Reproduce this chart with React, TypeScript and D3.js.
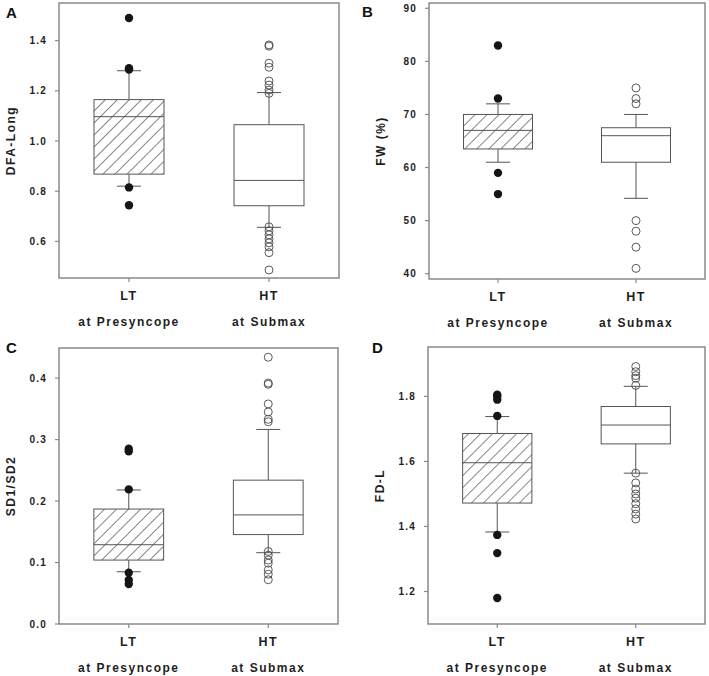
/**
 * Four box plots (LT at Presyncope vs HT at Submax) — SigmaPlot style
 */
import { useEffect, useRef } from 'react';
import * as d3 from 'd3';

// groups
const groups = ['LT', 'HT'];
const groupSub = ['at Presyncope', 'at Submax'];

// box stats per group: [whiskerLow, q1, median, q3, whiskerHigh]
const dfaStats = [
  [0.82, 0.868, 1.097, 1.165, 1.28],
  [0.656, 0.742, 0.843, 1.065, 1.193],
];
const dfaOutliers = [
  [1.49, 1.29, 1.285, 0.815, 0.744],
  [1.383, 1.378, 1.31, 1.294, 1.239, 1.223, 1.203, 1.19,
    0.658, 0.642, 0.626, 0.61, 0.594, 0.578, 0.555, 0.486],
];

const fwStats = [
  [61, 63.5, 67, 70, 72],
  [54.2, 61, 66, 67.5, 70],
];
const fwOutliers = [
  [83, 73, 59, 55],
  [75, 73, 72, 50, 48, 45, 41],
];

const sdStats = [
  [0.085, 0.104, 0.129, 0.187, 0.218],
  [0.116, 0.1455, 0.1775, 0.234, 0.3165],
];
const sdOutliers = [
  [0.285, 0.281, 0.219, 0.0835, 0.0717, 0.065],
  [0.434, 0.392, 0.39, 0.358, 0.345, 0.333, 0.329,
    0.118, 0.112, 0.104, 0.099, 0.088, 0.081, 0.072],
];

const fdStats = [
  [1.383, 1.472, 1.596, 1.686, 1.738],
  [1.564, 1.654, 1.712, 1.769, 1.831],
];
const fdOutliers = [
  [1.805, 1.8, 1.79, 1.74, 1.374, 1.318, 1.18],
  [1.892, 1.876, 1.864, 1.856, 1.834,
    1.564, 1.534, 1.515, 1.5, 1.487, 1.47, 1.454, 1.438, 1.423],
];

const dfaTicks = [0.6, 0.8, 1.0, 1.2, 1.4];
const fwTicks = [40, 50, 60, 70, 80, 90];
const sdTicks = [0.0, 0.1, 0.2, 0.3, 0.4];
const fdTicks = [1.2, 1.4, 1.6, 1.8];

interface Panel {
  letter: string;
  label: string;
  stats: number[][];
  outliers: number[][];
  ticks: number[];
  fmt: string;
  domain: [number, number];
  x0: number; x1: number; y0: number; y1: number;
  lx: number; ly: number;
}

const panels: Panel[] = [
  { letter: 'A', label: 'DFA-Long', stats: dfaStats, outliers: dfaOutliers, ticks: dfaTicks, fmt: '.1f',
    domain: [0.454, 1.55], x0: 59, x1: 339, y0: 3, y1: 278, lx: 6, ly: 18 },
  { letter: 'B', label: 'FW (%)', stats: fwStats, outliers: fwOutliers, ticks: fwTicks, fmt: 'd',
    domain: [39, 91], x0: 429, x1: 705, y0: 3, y1: 279, lx: 362, ly: 17 },
  { letter: 'C', label: 'SD1/SD2', stats: sdStats, outliers: sdOutliers, ticks: sdTicks, fmt: '.1f',
    domain: [0, 0.449], x0: 59, x1: 338, y0: 348, y1: 624, lx: 6, ly: 353 },
  { letter: 'D', label: 'FD-L', stats: fdStats, outliers: fdOutliers, ticks: fdTicks, fmt: '.1f',
    domain: [1.1, 1.952], x0: 428, x1: 705, y0: 347, y1: 624, lx: 372, ly: 353 },
];

const W = 709, H = 676;
const FONT = 'Arial, "Liberation Sans", Helvetica, sans-serif';
const TEXT = '#1e1e1e';

export default function App() {
  const svgRef = useRef<SVGSVGElement>(null);

  useEffect(() => {
    if (!svgRef.current) return;
    const svg = d3.select(svgRef.current);
    svg.selectAll('*').remove();

    // hatch pattern "/" for the LT boxes
    const defs = svg.append('defs');
    const pat = defs.append('pattern').attr('id', 'hatch')
      .attr('patternUnits', 'userSpaceOnUse').attr('width', 8.5).attr('height', 8.5)
      .attr('patternTransform', 'rotate(45)');
    pat.append('rect').attr('width', 8.5).attr('height', 8.5).attr('fill', 'white');
    pat.append('line').attr('x1', 0).attr('y1', 0).attr('x2', 0).attr('y2', 8.5)
      .attr('stroke', '#555').attr('stroke-width', 1.4);

    panels.forEach(p => {
      const g = svg.append('g');
      const y = d3.scaleLinear().domain(p.domain).range([p.y1, p.y0]);
      const x = d3.scalePoint<string>().domain(groups).range([p.x0, p.x1]).padding(0.5);
      const bw = (p.x1 - p.x0) * 0.25;
      const cap = 12;

      // frame
      g.append('rect').attr('x', p.x0).attr('y', p.y0)
        .attr('width', p.x1 - p.x0).attr('height', p.y1 - p.y0)
        .attr('fill', 'none').attr('stroke', '#8a8a8a').attr('stroke-width', 1.5);

      // y ticks
      const fmt = d3.format(p.fmt);
      p.ticks.forEach(t => {
        g.append('line').attr('x1', p.x0 - 4).attr('x2', p.x0)
          .attr('y1', y(t)).attr('y2', y(t)).attr('stroke', '#8a8a8a').attr('stroke-width', 1.2);
        g.append('text').attr('x', p.x0 - 12).attr('y', y(t)).attr('dy', '0.35em')
          .attr('text-anchor', 'end').attr('font-family', FONT).attr('font-weight', 'bold')
          .attr('font-size', '10px').attr('letter-spacing', '1.2px').attr('fill', TEXT)
          .text(fmt(t));
      });

      // y label
      const cy = (p.y0 + p.y1) / 2;
      const lxp = p.x0 - 44;
      g.append('text').attr('transform', `translate(${lxp},${cy}) rotate(-90)`)
        .attr('text-anchor', 'middle').attr('font-family', FONT).attr('font-weight', 'bold')
        .attr('font-size', '12px').attr('letter-spacing', '1.5px').attr('fill', TEXT)
        .text(p.label);

      // panel letter
      g.append('text').attr('x', p.lx).attr('y', p.ly).attr('font-family', FONT)
        .attr('font-weight', 'bold').attr('font-size', '15px').attr('fill', '#111').text(p.letter);

      groups.forEach((grp, i) => {
        const cx = x(grp)!;
        const [wl, q1, md, q3, wh] = p.stats[i];

        // x tick + labels
        g.append('line').attr('x1', cx).attr('x2', cx).attr('y1', p.y1).attr('y2', p.y1 + 4)
          .attr('stroke', '#8a8a8a').attr('stroke-width', 1.2);
        g.append('text').attr('x', cx).attr('y', p.y1 + 22).attr('text-anchor', 'middle')
          .attr('font-family', FONT).attr('font-weight', 'bold').attr('font-size', '12.5px')
          .attr('letter-spacing', '1.5px').attr('fill', TEXT).text(grp);
        g.append('text').attr('x', cx).attr('y', p.y1 + 48).attr('text-anchor', 'middle')
          .attr('font-family', FONT).attr('font-weight', 'bold').attr('font-size', '12px')
          .attr('letter-spacing', '1.5px').attr('fill', TEXT).text(groupSub[i]);

        const stroke = '#555';
        // whiskers
        g.append('line').attr('x1', cx).attr('x2', cx).attr('y1', y(q3)).attr('y2', y(wh))
          .attr('stroke', stroke).attr('stroke-width', 1);
        g.append('line').attr('x1', cx).attr('x2', cx).attr('y1', y(q1)).attr('y2', y(wl))
          .attr('stroke', stroke).attr('stroke-width', 1);
        [wl, wh].forEach(v => {
          g.append('line').attr('x1', cx - cap).attr('x2', cx + cap).attr('y1', y(v)).attr('y2', y(v))
            .attr('stroke', stroke).attr('stroke-width', 1);
        });

        // box
        g.append('rect').attr('x', cx - bw / 2).attr('y', y(q3))
          .attr('width', bw).attr('height', y(q1) - y(q3))
          .attr('fill', i === 0 ? 'url(#hatch)' : 'white')
          .attr('stroke', stroke).attr('stroke-width', 1);
        g.append('line').attr('x1', cx - bw / 2).attr('x2', cx + bw / 2)
          .attr('y1', y(md)).attr('y2', y(md)).attr('stroke', stroke).attr('stroke-width', 1);

        // outliers
        p.outliers[i].forEach(v => {
          if (i === 0) {
            g.append('circle').attr('cx', cx).attr('cy', y(v)).attr('r', 4.2).attr('fill', '#151515');
          } else {
            g.append('circle').attr('cx', cx).attr('cy', y(v)).attr('r', 4)
              .attr('fill', 'none').attr('stroke', '#4a4a4a').attr('stroke-width', 0.9);
          }
        });
      });
    });
  }, []);

  return (
    <svg ref={svgRef} width={W} height={H} viewBox={`0 0 ${W} ${H}`}
      style={{ position: 'absolute', left: 0, top: 0, background: 'white' }} />
  );
}
